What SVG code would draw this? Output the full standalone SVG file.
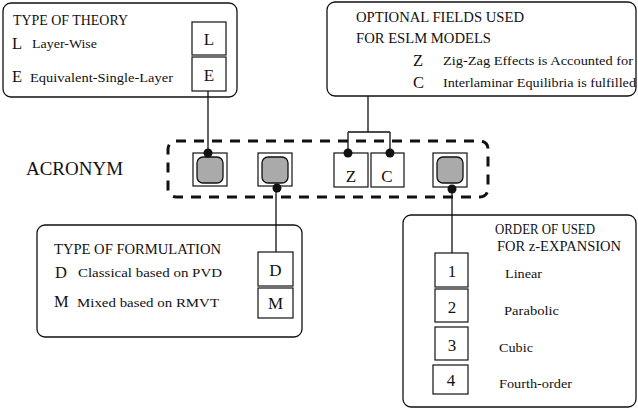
<svg xmlns="http://www.w3.org/2000/svg" width="638" height="416" viewBox="0 0 638 416">
<style>
text{font-family:"Liberation Serif","Times New Roman",serif;fill:#111}
.panel{fill:#fff;stroke:#111;stroke-width:1.3}
.box{fill:#fff;stroke:#111;stroke-width:1.2}
.gray{fill:#aaa;stroke:#111;stroke-width:1.3}
.t{font-size:14.5px}
.s{font-size:13px}
.big{font-size:16.5px}
.lab{font-size:17px;text-anchor:middle}
.ln{fill:none;stroke:#111;stroke-width:1.3}
.dot{fill:#111}
</style>
<rect width="638" height="416" fill="#fff"/>
<g id="acronym">
<text x="26" y="175" style="font-size:18px" textLength="97" lengthAdjust="spacingAndGlyphs">ACRONYM</text>
<rect x="168" y="141" width="320" height="56" rx="8" fill="none" stroke="#111" stroke-width="3" stroke-dasharray="10 8"/>
<g id="slot-theory"><rect class="box" x="193" y="153" width="34" height="33"/><rect class="gray" x="197" y="157" width="26" height="26" rx="6"/></g>
<g id="slot-formulation"><rect class="box" x="258" y="153" width="34" height="33"/><rect class="gray" x="262" y="157" width="26" height="26" rx="6"/></g>
<g id="slot-z"><rect class="box" x="334" y="153" width="34" height="34"/><text class="lab" x="351" y="182">Z</text></g>
<g id="slot-c"><rect class="box" x="371" y="153" width="33" height="34"/><text class="lab" x="387" y="182">C</text></g>
<g id="slot-order"><rect class="box" x="433" y="153" width="34" height="34"/><rect class="gray" x="437" y="157" width="26" height="26" rx="6"/></g>
</g>
<g id="theory">
<rect class="panel" x="3" y="3" width="234" height="94" rx="8"/>
<text class="t" x="13" y="25" textLength="115" lengthAdjust="spacingAndGlyphs">TYPE OF THEORY</text>
<text class="big" x="12" y="49">L</text><text class="s" x="32" y="48" textLength="65" lengthAdjust="spacingAndGlyphs">Layer-Wise</text>
<text class="big" x="12" y="82">E</text><text class="s" x="30" y="82" textLength="143" lengthAdjust="spacingAndGlyphs">Equivalent-Single-Layer</text>
<rect class="box" x="192" y="22" width="34" height="33"/><text class="lab" x="209" y="45">L</text>
<rect class="box" x="192" y="57" width="34" height="34"/><text class="lab" x="209" y="81">E</text>
</g>
<g id="optional">
<rect class="panel" x="327" y="2" width="309" height="94" rx="8"/>
<text class="t" x="356" y="22" textLength="168" lengthAdjust="spacingAndGlyphs">OPTIONAL FIELDS USED</text>
<text class="t" x="356" y="43" textLength="135" lengthAdjust="spacingAndGlyphs">FOR ESLM MODELS</text>
<text class="big" x="413" y="66">Z</text><text class="s" x="443" y="65" textLength="190" lengthAdjust="spacingAndGlyphs">Zig-Zag Effects is Accounted for</text>
<text class="big" x="413" y="88">C</text><text class="s" x="443" y="87" textLength="193" lengthAdjust="spacingAndGlyphs">Interlaminar Equilibria is fulfilled</text>
</g>
<g id="formulation">
<rect class="panel" x="37" y="225" width="265" height="112" rx="8"/>
<text class="t" x="54" y="254" textLength="167" lengthAdjust="spacingAndGlyphs">TYPE OF FORMULATION</text>
<text class="big" x="55" y="278">D</text><text class="s" x="78" y="277" textLength="144" lengthAdjust="spacingAndGlyphs">Classical based on PVD</text>
<text class="big" x="54" y="307">M</text><text class="s" x="77" y="307" textLength="142" lengthAdjust="spacingAndGlyphs">Mixed based on RMVT</text>
<rect class="box" x="258" y="252" width="35" height="34"/><text class="lab" x="275.5" y="276">D</text>
<rect class="box" x="258" y="288" width="35" height="30"/><text class="lab" x="275.5" y="309">M</text>
</g>
<g id="order">
<rect class="panel" x="403" y="215" width="233" height="192" rx="8"/>
<text class="t" x="495" y="234" textLength="100" lengthAdjust="spacingAndGlyphs">ORDER OF USED</text>
<text class="t" x="497" y="251" textLength="124" lengthAdjust="spacingAndGlyphs">FOR z-EXPANSION</text>
<rect class="box" x="435" y="253" width="33" height="34"/><text class="lab" x="452" y="277">1</text><text class="s" x="505" y="278" textLength="37" lengthAdjust="spacingAndGlyphs">Linear</text>
<rect class="box" x="435" y="289" width="33" height="33"/><text class="lab" x="452" y="313">2</text><text class="s" x="504" y="315" textLength="55" lengthAdjust="spacingAndGlyphs">Parabolic</text>
<rect class="box" x="435" y="327" width="33" height="33"/><text class="lab" x="452" y="351">3</text><text class="s" x="499" y="352" textLength="34" lengthAdjust="spacingAndGlyphs">Cubic</text>
<rect class="box" x="433" y="365" width="35" height="29"/><text class="lab" x="451" y="386">4</text><text class="s" x="499" y="388" textLength="73" lengthAdjust="spacingAndGlyphs">Fourth-order</text>
</g>
<g id="connectors">
<path class="ln" d="M208 91V153"/>
<path class="ln" d="M368 96V132M348 132H390M348 132V153M390 132V153"/>
<path class="ln" d="M276 188V252"/>
<path class="ln" d="M452 188V253"/>
<circle class="dot" cx="208" cy="153" r="4.5"/>
<circle class="dot" cx="348" cy="153" r="4.5"/>
<circle class="dot" cx="390" cy="153" r="4.5"/>
<circle class="dot" cx="277" cy="188" r="4.5"/>
<circle class="dot" cx="452" cy="189" r="4.5"/>
</g>
</svg>
